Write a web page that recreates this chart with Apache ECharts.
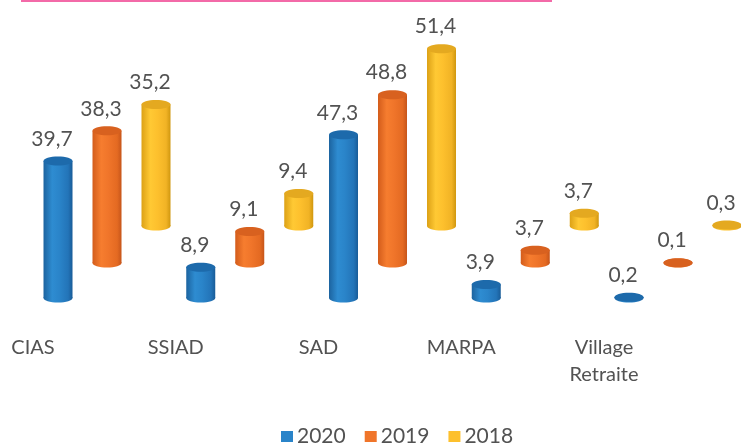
<!DOCTYPE html>
<html><head><meta charset="utf-8">
<script src="https://cdn.jsdelivr.net/npm/echarts@6/dist/echarts.min.js"></script>
<style>html,body{margin:0;padding:0;background:#fff}#c{width:741px;height:443px}</style>
</head><body><div id="c"></div>
<script>
const categories = ['CIAS', 'SSIAD', 'SAD', 'MARPA', 'Village\nRetraite'];
const years = ['2020', '2019', '2018'];
const values2020 = [39.7, 8.9, 47.3, 3.9, 0.2];
const values2019 = [38.3, 9.1, 48.8, 3.7, 0.1];
const values2018 = [35.2, 9.4, 51.4, 3.7, 0.3];

const seriesValues = [values2020, values2019, values2018];
const baseColors = ['#2a84c9', '#f0752a', '#fdc02d'];
const topColors = ['#1d6aab', '#d8611f', '#e4a920'];
const bodyStops = [
  ['#1c639f', '#2e8cd1', '#2a84c9', '#2374b8', '#195c98'],
  ['#d35c1b', '#f67d2f', '#f0752a', '#e46a22', '#c6551a'],
  ['#dca116', '#ffc934', '#fdc02d', '#f1b325', '#d0970f']
];
const depth = [{dx: 25, dy: 0}, {dx: 74, dy: -35}, {dx: 123, dy: -72}];
const RX = 14.5, RY = 4.5;
const textColor = '#525252';
const fontFam = 'Lato, "Open Sans", sans-serif';

function fmt(v) { return v.toFixed(1).replace('.', ','); }

function makeRender(s) {
  return function (params, api) {
    const i = api.value(0), v = api.value(1);
    const top = api.coord([i, v]);
    const base = api.coord([i, 0]);
    const x = base[0] + depth[s].dx;
    const yb = base[1] + depth[s].dy;
    const yt = top[1] + depth[s].dy;
    const st = bodyStops[s];
    const grad = {type: 'linear', x: 0, y: 0, x2: 1, y2: 0, colorStops: [
      {offset: 0, color: st[0]}, {offset: 0.3, color: st[1]}, {offset: 0.55, color: st[2]},
      {offset: 0.85, color: st[3]}, {offset: 1, color: st[4]}]};
    return {
      type: 'group',
      children: [
        {type: 'ellipse', shape: {cx: x, cy: yb, rx: RX, ry: RY}, style: {fill: grad}},
        {type: 'rect', shape: {x: x - RX, y: yt, width: RX * 2, height: Math.max(0, yb - yt)}, style: {fill: grad}},
        {type: 'ellipse', shape: {cx: x, cy: yt, rx: RX, ry: RY}, style: {fill: topColors[s]}},
        {type: 'text', x: x - 6, y: yt - 22, style: {text: fmt(v), fill: textColor,
          font: '21px ' + fontFam, align: 'center', verticalAlign: 'middle',
          textAlign: 'center', textVerticalAlign: 'middle'}}
      ]
    };
  };
}

const chart = echarts.init(document.getElementById('c'), null, {renderer: 'canvas'});
chart.setOption({
  animation: false,
  color: baseColors,
  textStyle: {fontFamily: fontFam},
  graphic: [{type: 'rect', shape: {x: 21, y: 0, width: 531, height: 2}, style: {fill: '#f36aa8'}}],
  grid: {left: 33, right: 137, top: 91, bottom: 145, containLabel: false},
  xAxis: {
    type: 'category', data: categories, boundaryGap: false,
    axisLine: {show: false}, axisTick: {show: false}, splitLine: {show: false},
    axisLabel: {fontSize: 20, color: textColor, fontFamily: fontFam, margin: 36, lineHeight: 27, interval: 0}
  },
  yAxis: {type: 'value', min: 0, max: 60, show: false},
  legend: {
    data: years, left: 276, top: 421, icon: 'rect', itemWidth: 12, itemHeight: 11, itemGap: 19,
    textStyle: {fontSize: 21, color: textColor, fontFamily: fontFam, padding: [0, 0, 0, -1]}
  },
  series: years.map((y, s) => ({
    name: y, type: 'custom', clip: false,
    itemStyle: {color: baseColors[s]},
    renderItem: makeRender(s),
    encode: {x: 0, y: 1},
    data: seriesValues[s].map((v, i) => [i, v])
  }))
});
</script></body></html>
